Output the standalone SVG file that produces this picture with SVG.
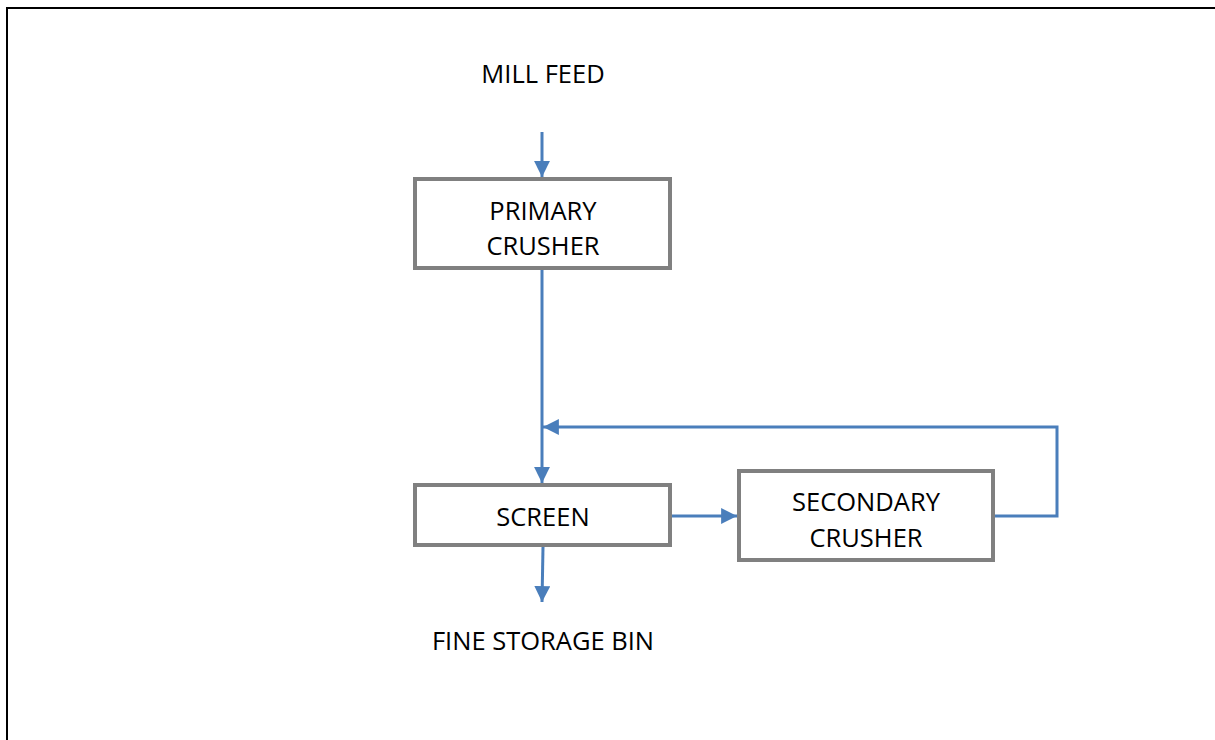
<svg xmlns="http://www.w3.org/2000/svg" width="1215" height="740" viewBox="0 0 1215 740">
<style>
.box{fill:#ffffff;stroke:#808080;stroke-width:4}
.t{font-family:"Open Sans","Liberation Sans",sans-serif;font-size:25.5px;fill:#000;text-anchor:middle}
.c{fill:none;stroke:#4a7ebb;stroke-width:3}
</style>
<defs>
<marker id="ah" viewBox="0 0 10 10" refX="10" refY="5" markerWidth="5.3" markerHeight="5.3" markerUnits="strokeWidth" orient="auto">
<path d="M0,0 L10,5 L0,10 z" fill="#4a7ebb"/>
</marker>
</defs>
<rect width="1215" height="740" fill="#ffffff"/>
<path d="M7,740 V8 H1215" fill="none" stroke="#000" stroke-width="2"/>
<g id="connectors">
<line class="c" x1="542" y1="132" x2="542" y2="177" marker-end="url(#ah)"/>
<line class="c" x1="542" y1="270" x2="542" y2="483" marker-end="url(#ah)"/>
<polyline class="c" points="995,516 1057,516 1057,427 543,427" marker-end="url(#ah)"/>
<line class="c" x1="672" y1="516" x2="737" y2="516" marker-end="url(#ah)"/>
<line class="c" x1="543" y1="547" x2="542" y2="602" marker-end="url(#ah)"/>
</g>
<g id="mill-feed"><text class="t" x="543" y="83">MILL FEED</text></g>
<g id="primary-crusher">
<rect class="box" x="415" y="179" width="255" height="89"/>
<text class="t" x="543" y="220">PRIMARY</text>
<text class="t" x="543" y="255">CRUSHER</text>
</g>
<g id="screen">
<rect class="box" x="415" y="485" width="255" height="60"/>
<text class="t" x="543" y="526">SCREEN</text>
</g>
<g id="secondary-crusher">
<rect class="box" x="739" y="471" width="254" height="89"/>
<text class="t" x="866" y="511">SECONDARY</text>
<text class="t" x="866" y="547">CRUSHER</text>
</g>
<g id="fine-storage-bin"><text class="t" x="543" y="650">FINE STORAGE BIN</text></g>
</svg>
